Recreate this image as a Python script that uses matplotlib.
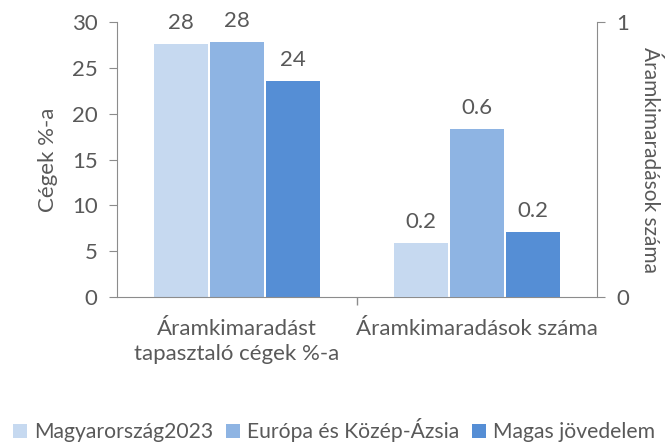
import matplotlib.pyplot as plt
import numpy as np

# data
categories = ['Áramkimaradást\ntapasztaló cégek %-a', 'Áramkimaradások száma']
series = ['Magyarország2023', 'Európa és Közép-Ázsia', 'Magas jövedelem']
pct_values = [27.6, 27.8, 23.6]      # left axis, first group
count_values = [0.196, 0.61, 0.236]  # right axis, second group
pct_labels = ['28', '28', '24']
count_labels = ['0.2', '0.6', '0.2']
colors = ['#C6D9F0', '#8EB4E3', '#558ED5']

txt = '#595959'
axcol = '#8C8C8C'
plt.rcParams['font.family'] = ['Lato', 'DejaVu Sans']
fs = 16

fig = plt.figure(figsize=(6.72, 4.44), dpi=100)
ax = fig.add_axes([0.174, 0.331, 0.714, 0.619])
ax2 = ax.twinx()

w = 0.225
gap = 0.008
offs = [-(w + gap), 0, (w + gap)]

handles = []
for i in range(3):
    b = ax.bar(0 + offs[i], pct_values[i], width=w, color=colors[i], label=series[i])
    handles.append(b)
    ax.text(0 + offs[i], pct_values[i] + 1.2, pct_labels[i], ha='center', va='bottom', color=txt, fontsize=fs)
    ax2.bar(1 + offs[i], count_values[i], width=w, color=colors[i])
    ax2.text(1 + offs[i], count_values[i] + 0.04, count_labels[i], ha='center', va='bottom', color=txt, fontsize=fs)

ax.set_xlim(-0.5, 1.5)
ax.set_ylim(0, 30)
ax2.set_ylim(0, 1)
ax.set_yticks(range(0, 31, 5))
ax2.set_yticks([0, 1])

ax.set_xticks([0.5])
ax.set_xticklabels([''])
ax.tick_params(axis='x', length=6, color=axcol, width=1)
for x, lab in zip([0, 1], categories):
    ax.text(x, -0.08, lab, transform=ax.get_xaxis_transform(), ha='center', va='top',
            color=txt, fontsize=fs, linespacing=1.3)

for a in (ax, ax2):
    for s in a.spines.values():
        s.set_visible(False)
ax.spines['left'].set_visible(True)
ax.spines['bottom'].set_visible(True)
ax2.spines['right'].set_visible(True)
for s in ('left', 'bottom'):
    ax.spines[s].set_color(axcol)
ax2.spines['right'].set_color(axcol)

ax.tick_params(axis='y', colors=axcol, labelcolor=txt, length=6, labelsize=fs, pad=8)
ax2.tick_params(axis='y', colors=axcol, labelcolor=txt, length=6, labelsize=fs, pad=8)

ax.set_ylabel('Cégek %-a', color=txt, fontsize=fs, labelpad=10)
ax2.set_ylabel('Áramkimaradások száma', color=txt, fontsize=15, rotation=270, labelpad=22)

fig.legend(handles=handles, labels=series, loc='lower left', bbox_to_anchor=(0.0, -0.025),
           ncol=3, frameon=False, fontsize=15.2, labelcolor=txt, handlelength=0.7,
           handleheight=0.7, handletextpad=0.3, columnspacing=0.6, borderaxespad=0.2)

fig.savefig('out.png', dpi=100)
